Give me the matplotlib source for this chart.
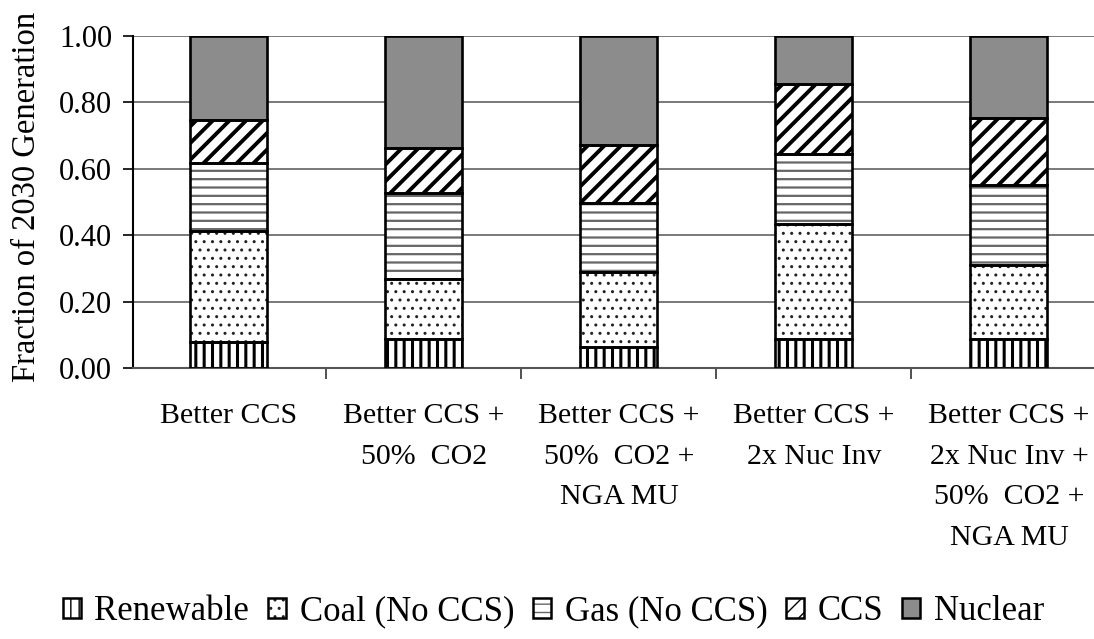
import matplotlib
matplotlib.use("Agg")
import matplotlib.pyplot as plt
import numpy as np
from matplotlib.patches import Patch

# data (fractions of 2030 generation)
scenarios = [
    "Better CCS",
    "Better CCS +\n50%  CO2",
    "Better CCS +\n50%  CO2 +\nNGA MU",
    "Better CCS +\n2x Nuc Inv",
    "Better CCS +\n2x Nuc Inv +\n50%  CO2 +\nNGA MU",
]
renewable = [0.079, 0.087, 0.064, 0.087, 0.087]
coal = [0.334, 0.180, 0.226, 0.347, 0.223]
gas = [0.204, 0.259, 0.208, 0.211, 0.241]
ccs = [0.130, 0.138, 0.173, 0.210, 0.201]
nuclear = [0.253, 0.336, 0.329, 0.145, 0.248]

series_names = ["Renewable", "Coal (No CCS)", "Gas (No CCS)", "CCS", "Nuclear"]
series_vals = [renewable, coal, gas, ccs, nuclear]

# style per series: facecolor, hatch, hatch colour, hatch linewidth
styles = [
    ("white", "||", "black", 2.2),
    ("white", "..", "#222222", 1.0),
    ("white", "--", "#666666", 1.6),
    ("white", "//", "black", 2.8),
    ("#8c8c8c", "", "black", 1.0),
]

plt.rcParams["font.family"] = ["Liberation Serif", "DejaVu Serif"]
FS = 21.5

fig = plt.figure(figsize=(10.94, 6.39), dpi=100)
ax = fig.add_axes([133 / 1094, 1 - 368 / 639, 1 - 133 / 1094, (368 - 36) / 639])

x = np.arange(len(scenarios))
width = 0.395
bottom = np.zeros(len(scenarios))
handles = []
for name, vals, (fc, hatch, hc, hlw) in zip(series_names, series_vals, styles):
    vals = np.array(vals)
    with plt.rc_context({"hatch.linewidth": hlw}):
        ax.bar(x, vals, width, bottom=bottom, color=fc, hatch=hatch,
               edgecolor=hc, linewidth=0, zorder=2)
        fill = Patch(facecolor=fc, hatch=hatch, edgecolor=hc, linewidth=0)
    ax.bar(x, vals, width, bottom=bottom, fill=False, edgecolor="black",
           linewidth=1.9, zorder=3)
    outline = Patch(fill=False, edgecolor="black", linewidth=1.8)
    handles.append((fill, outline))
    bottom += vals

ax.set_xlim(-0.492, 4.436)
ax.set_ylim(0, 1.0)
ax.set_yticks(np.arange(0, 1.01, 0.2))
ax.set_yticklabels([f"{v:.2f}" for v in np.arange(0, 1.01, 0.2)], fontsize=22)
ax.set_ylabel("Fraction of 2030 Generation", fontsize=23.5)
ax.yaxis.set_label_coords(-0.095, 0.515)

ax.set_xticks(x[:-1] + 0.5)
ax.set_xticklabels([])
ax.set_xticks(x, minor=True)
ax.set_xticklabels(scenarios, minor=True, fontsize=FS, linespacing=1.74)
ax.tick_params(axis="x", which="minor", length=0, pad=25)
ax.tick_params(axis="x", which="major", length=8, width=1.2, color="#333333",
               direction="out")
ax.tick_params(axis="y", length=7, width=1.2, pad=8, direction="out")

ax.yaxis.grid(True, color="#555555", linewidth=1.1, zorder=0)
ax.set_axisbelow(True)
for s in ("top", "right"):
    ax.spines[s].set_visible(False)
ax.spines["left"].set_linewidth(1.5)
ax.spines["bottom"].set_linewidth(1.5)
ax.spines["bottom"].set_color("#555555")

fig.legend(handles, series_names, loc="center", ncol=5,
           bbox_to_anchor=(0.506, 1 - 612 / 639), frameon=False,
           fontsize=25, handlelength=0.5, handleheight=0.5,
           handletextpad=0.4, columnspacing=0.55, borderpad=0)

fig.savefig("out.png", dpi=100)
